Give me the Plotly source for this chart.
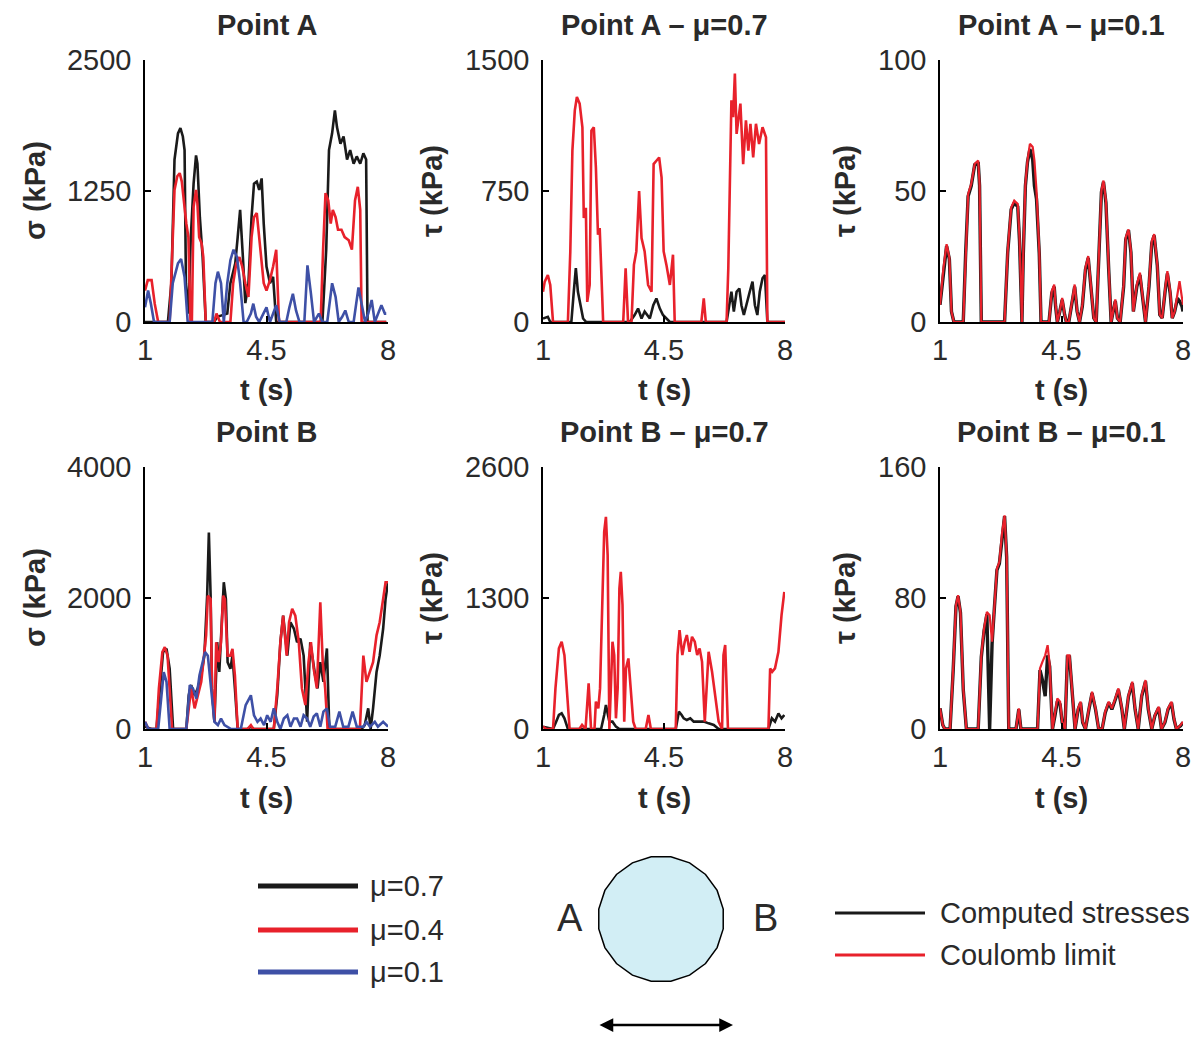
import math
import plotly.graph_objects as go

# ---------------- data ----------------
# Point A, normal stress sigma (kPa)
A_sig_t07 = [1.00,1.66,1.76,1.85,1.95,2.02,2.09,2.14,2.18,2.25,
             2.32,2.40,2.47,2.51,2.58,2.66,2.75,2.99,3.08,3.37,
             3.46,3.60,3.67,3.74,3.82,3.89,3.98,4.07,4.14,4.22,
             4.29,4.36,4.42,4.50,4.60,4.69,4.78,6.11,6.22,6.30,
             6.39,6.47,6.53,6.63,6.72,6.82,6.91,7.01,7.10,7.20,
             7.29,7.37,7.41,7.95]
A_sig_v07 = [0,0,370,1550,1800,1850,1770,1640,370,80,
             810,1320,1590,1510,1000,620,0,0,50,80,
             370,560,810,1070,620,180,370,1000,1320,1340,
             1260,1370,940,530,370,430,0,0,690,1640,
             1800,2020,1860,1700,1770,1550,1640,1510,1580,1510,
             1610,1550,0,0]
A_sig_t04 = [1.00,1.08,1.19,1.28,1.38,1.71,1.78,1.85,1.93,2.00,
             2.06,2.14,2.19,2.25,2.31,2.35,2.40,2.47,2.51,2.56,
             2.63,2.68,2.75,2.99,3.06,3.16,3.46,3.54,3.63,3.72,
             3.80,3.89,3.98,4.07,4.14,4.22,4.29,4.36,4.42,4.50,
             4.60,4.69,4.78,4.86,6.06,6.13,6.20,6.28,6.35,6.41,
             6.49,6.56,6.66,6.75,6.87,6.96,7.05,7.13,7.20,7.24,
             7.95]
A_sig_v04 = [300,400,400,175,0,0,620,1260,1390,1420,
             1340,1070,940,810,0,0,1100,1260,1130,810,
             750,620,0,0,80,0,0,370,560,620,
             530,370,240,810,1000,1040,810,620,370,300,
             400,530,690,0,0,690,1230,1160,940,1070,
             1000,880,880,810,780,690,1160,1290,1070,0,
             0]
A_sig_t01 = [1.00,1.09,1.17,1.26,1.71,1.80,1.95,2.04,2.14,2.23,
             2.94,3.03,3.10,3.19,3.27,3.37,3.46,3.55,3.65,3.74,
             3.84,3.93,4.05,4.12,4.20,4.29,4.41,4.50,4.60,4.69,
             4.78,4.88,5.07,5.16,5.26,5.35,5.45,5.59,5.68,5.78,
             5.87,6.01,6.11,6.25,6.39,6.49,6.58,6.68,6.77,6.87,
             7.01,7.15,7.24,7.34,7.43,7.53,7.62,7.72,7.81,7.91,
             7.95]
A_sig_v01 = [140,300,175,0,0,370,560,600,430,0,
             0,370,480,370,0,370,590,690,620,370,
             0,0,80,175,50,0,80,140,0,80,
             160,0,0,140,270,110,0,0,540,270,
             0,80,0,0,370,240,0,50,110,0,
             0,330,175,0,80,210,0,80,160,80,
             80]

# Point A, shear tau (kPa), mu = 0.7
A_tau07_t_lim = [1.00,1.05,1.14,1.21,1.29,1.72,1.79,1.85,1.92,1.98,
                 2.06,2.14,2.18,2.24,2.28,2.35,2.40,2.47,2.53,2.59,
                 2.64,2.69,2.74,3.32,3.39,3.46,3.56,3.63,3.70,3.78,
                 3.85,3.94,4.04,4.14,4.20,4.28,4.36,4.43,4.49,4.57,
                 4.67,4.76,4.81,5.58,5.65,5.71,6.31,6.36,6.41,6.45,
                 6.50,6.55,6.60,6.65,6.71,6.79,6.87,6.94,7.00,7.08,
                 7.16,7.25,7.35,7.45,7.49,8.00]
A_tau07_v_lim = [173,231,269,212,0,0,404,981,1212,1288,
                 1250,1115,596,654,115,212,1096,1115,885,500,
                 538,250,0,0,308,0,0,327,404,750,
                 481,404,212,173,904,923,942,827,404,327,
                 212,385,0,0,135,0,0,308,846,1269,
                 1173,1423,1077,1173,1250,904,1154,981,1135,942,
                 1135,1019,1115,1058,0,0]
A_tau07_t_cmp = [1.00,1.14,1.21,1.82,1.89,1.95,2.01,2.08,2.16,2.25,
                 3.51,3.65,3.75,3.85,3.94,4.09,4.19,4.28,4.38,4.47,
                 4.57,4.67,6.31,6.39,6.45,6.52,6.60,6.68,6.74,6.81,
                 6.89,6.98,7.06,7.13,7.20,7.27,7.35,7.42,7.49,8.00]
A_tau07_v_cmp = [20,30,0,0,173,308,173,96,20,0,
                 0,40,77,20,60,20,96,135,77,40,
                 20,0,0,96,173,60,173,192,96,40,
                 96,173,231,96,40,173,250,269,0,0]

# Point A, shear tau (kPa), mu = 0.1
A_tau01_t = [1.00,1.10,1.19,1.27,1.33,1.40,1.67,1.74,1.81,1.90,
             2.00,2.10,2.14,2.19,2.86,2.95,3.05,3.14,3.24,3.29,
             3.36,3.40,3.46,3.52,3.59,3.67,3.72,3.78,3.86,3.91,
             4.14,4.22,4.29,4.33,4.38,4.45,4.52,4.59,4.64,4.71,
             4.81,4.88,4.95,5.02,5.10,5.19,5.27,5.35,5.43,5.50,
             5.57,5.65,5.71,5.78,5.86,5.93,5.97,6.05,6.11,6.19,
             6.29,6.35,6.43,6.50,6.57,6.67,6.76,6.86,6.92,7.02,
             7.10,7.17,7.26,7.33,7.40,7.50,7.55,7.63,7.69,7.76,
             7.84,7.90,7.97,8.00]
A_tau01_v_lim = [6.6,20.7,29.7,24.6,4,0,0,27.1,48.8,52.7,
                 60.4,61.6,52.7,0,0,27.1,43.7,46.3,45,32.2,
                 0,27.1,52.7,61.6,68,66.8,61.6,50.1,27.1,0,
                 0,11.8,14.3,6.6,0,4,9.2,2.8,0,0,
                 9.2,14.3,4,0,6.6,20.7,25.2,14.3,1.5,0,
                 27.1,50.1,54,46.3,20.7,0,2.8,8.6,1.5,0,
                 14.3,32.2,35.4,27.1,4,14.3,18.8,6.6,0,14.3,
                 30.9,33.5,22,2.8,1.5,14.3,19.4,11.8,1.5,4,
                 11.8,15.6,9.2,6.6]
A_tau01_v_cmp = [6.6,20.0,29.0,24.0,4,0,0,26.5,48,52,
                 60,61,52,0,0,26.5,43,45.5,44,31,
                 0,26,52,61,66,62,52,47,26,0,
                 0,11,13.5,6,0,4,8.5,2.8,0,0,
                 8.5,13.5,4,0,6,20,24.5,13.5,1.5,0,
                 26.5,49.5,53.5,45.5,20,0,2.8,8,1.5,0,
                 13.5,31.5,35,26.5,4,13.5,18,6,0,13.5,
                 30,33,21.5,2.8,1.5,13.5,18.5,11,1.5,4,
                 9,8,6,4]

# Point B, normal stress sigma (kPa)
B_sig_t07 = [1.00,1.19,1.33,1.43,1.52,1.62,1.71,1.81,2.19,2.26,
             2.33,2.43,2.52,2.62,2.71,2.79,2.84,2.89,2.93,3.00,
             3.08,3.14,3.21,3.27,3.33,3.38,3.46,3.52,3.59,3.67,
             3.95,4.05,4.14,4.71,4.81,4.90,4.98,5.05,5.10,5.19,
             5.29,5.38,5.48,5.57,5.67,5.76,5.84,5.90,5.97,6.05,
             6.14,6.24,6.31,7.24,7.33,7.43,7.50,7.57,7.67,7.76,
             7.86,7.93,8.00]
B_sig_v07 = [35,0,0,620,1175,1225,920,0,0,515,
             670,515,620,820,1120,2035,3000,2035,620,110,
             1325,870,1730,2240,1985,1020,920,1120,620,0,
             0,35,0,0,515,1325,1730,1325,1120,1630,
             1530,1325,1380,1120,110,1325,1020,820,620,1020,
             720,1230,0,0,60,315,0,315,870,1120,
             1530,1985,2240]
B_sig_t04 = [1.00,1.10,1.33,1.40,1.50,1.57,1.65,1.71,1.78,2.19,
             2.26,2.33,2.43,2.52,2.62,2.70,2.76,2.81,2.89,2.93,
             3.00,3.05,3.12,3.19,3.25,3.30,3.38,3.46,3.52,3.59,
             3.67,3.95,4.05,4.12,4.71,4.81,4.90,4.98,5.08,5.15,
             5.24,5.33,5.43,5.52,5.62,5.71,5.78,5.86,5.95,6.05,
             6.12,6.19,6.26,7.19,7.29,7.38,7.48,7.57,7.67,7.76,
             7.86,7.93,8.00]
B_sig_v04 = [110,0,0,620,1175,1250,1120,620,0,0,
             315,620,315,515,720,1120,1430,2035,1985,620,
             110,1325,1020,1325,2035,1985,1120,1120,1225,820,
             0,0,60,0,0,620,1325,1730,1120,1630,
             1835,1730,1325,620,365,1020,1325,920,620,1935,
             1020,620,0,0,1120,720,870,1020,1430,1630,
             1985,2240,2240]
B_sig_t01 = [1.00,1.10,1.38,1.48,1.54,1.62,1.71,2.19,2.29,2.38,
             2.48,2.57,2.67,2.73,2.81,2.90,3.00,3.10,3.19,3.29,
             3.48,3.76,3.90,4.05,4.14,4.24,4.33,4.43,4.52,4.62,
             4.71,4.81,4.90,5.00,5.10,5.19,5.29,5.38,5.48,5.57,
             5.67,5.76,5.86,5.95,6.05,6.14,6.24,6.33,6.48,6.60,
             6.71,6.86,6.98,7.10,7.29,7.38,7.48,7.62,7.71,7.86,
             8.00]
B_sig_v01 = [110,0,0,620,870,720,0,0,670,620,
             465,820,1020,1175,1120,620,110,60,160,60,
             0,0,365,515,210,110,160,60,210,110,
             315,110,0,160,210,35,160,160,35,210,
             160,35,190,240,35,265,315,35,35,265,
             35,35,265,35,35,110,35,110,35,110,
             35]

# Point B, shear tau (kPa), mu = 0.7
B_tau07_t_lim = [1.00,1.10,1.29,1.36,1.46,1.54,1.62,1.69,1.77,2.05,
                 2.13,2.23,2.32,2.39,2.49,2.53,2.60,2.65,2.71,2.77,
                 2.82,2.87,2.92,2.97,3.01,3.06,3.11,3.16,3.21,3.25,
                 3.30,3.35,3.40,3.47,3.54,3.61,3.68,3.97,4.05,4.12,
                 4.84,4.89,4.95,5.03,5.10,5.16,5.24,5.31,5.39,5.46,
                 5.53,5.60,5.68,5.75,5.79,5.89,5.96,6.08,6.18,6.22,
                 6.27,6.32,6.35,7.52,7.57,7.63,7.71,7.81,7.90,7.98]
B_tau07_v_lim = [23,0,0,403,800,866,733,337,0,0,
                 40,0,453,0,0,271,205,403,1064,1956,
                 2105,1725,0,403,866,733,106,403,1394,1560,
                 1229,73,601,700,403,73,0,0,139,0,
                 0,733,981,733,866,932,766,915,866,733,
                 800,667,73,601,766,568,403,73,0,733,
                 833,403,0,0,601,568,601,766,1130,1361]
B_tau07_t_cmp = [1.00,1.29,1.38,1.46,1.54,1.62,1.72,2.68,2.77,2.82,
                 2.92,3.01,3.11,3.21,4.84,4.93,5.01,5.07,5.16,5.26,
                 5.36,5.51,5.65,5.79,5.94,6.08,7.52,7.62,7.71,7.81,
                 7.90,7.98]
B_tau07_v_cmp = [23,0,73,139,155,106,0,0,139,238,
                 73,73,23,0,0,172,139,106,89,106,
                 73,73,73,56,40,0,0,106,73,155,
                 106,139]

# Point B, shear tau (kPa), mu = 0.1
B_tau01_t = [1.00,1.08,1.14,1.29,1.38,1.46,1.52,1.59,1.67,1.76,
             2.10,2.19,2.27,2.35,2.43,2.50,2.57,2.64,2.71,2.79,
             2.86,2.92,2.98,3.19,3.27,3.33,3.81,3.88,3.95,4.03,
             4.10,4.16,4.24,4.31,4.38,4.46,4.52,4.60,4.67,4.73,
             4.81,4.89,4.98,5.05,5.11,5.19,5.29,5.38,5.48,5.57,
             5.67,5.76,5.86,5.95,6.05,6.14,6.24,6.31,6.43,6.54,
             6.62,6.71,6.81,6.92,7.00,7.10,7.19,7.30,7.38,7.48,
             7.57,7.67,7.74,7.81,7.93,8.00]
B_tau01_v_lim = [12.6,2.4,0,0,37,75.6,81.7,71.5,24.8,0,
                 0,45,61.4,71.5,69.5,53.3,75.6,98,102,120,
                 130.5,106,0,0,12.6,0,0,37,41,45,
                 51.2,39,0,8.5,18.7,16.7,4.5,0,45,45,
                 24.8,0,12.6,16.7,4.5,0,12.6,22.8,12.6,0,
                 0,10.6,16.7,12.6,18.7,24.8,12.6,0,20.7,28.9,
                 12.6,0,20.7,29.9,12.6,0,8.5,13.6,0,4.5,
                 12.6,16.7,6.5,0,2.4,4.5]
B_tau01_v_cmp = [12.6,2.4,0,0,36,75,81,71,24,0,
                 0,44,60,70,0,52,75,97,101,119,
                 130,105,0,0,12,0,0,36,30,20,
                 45,38,0,8,17,15,4,0,44,44,
                 24,0,12,16,4,0,12,22,12,0,
                 0,10,16,12,18,24,12,0,20,28,
                 12,0,20,29,12,0,8,13,0,4,
                 12,16,6,0,2,4]

x_ticks = [1, 4.5, 8]
x_tick_text = ["1", "4.5", "8"]
y_ticks = [[0, 1250, 2500], [0, 750, 1500], [0, 50, 100],
           [0, 2000, 4000], [0, 1300, 2600], [0, 80, 160]]
titles = ["Point A", "Point A \u2013 \u03bc=0.7", "Point A \u2013 \u03bc=0.1",
          "Point B", "Point B \u2013 \u03bc=0.7", "Point B \u2013 \u03bc=0.1"]
ylabels = ["\u03c3 (kPa)", "\u03c4 (kPa)", "\u03c4 (kPa)",
           "\u03c3 (kPa)", "\u03c4 (kPa)", "\u03c4 (kPa)"]
xlabel = "t (s)"
mu_labels = ["\u03bc=0.7", "\u03bc=0.4", "\u03bc=0.1"]
stress_labels = ["Computed stresses", "Coulomb limit"]

# ---------------- styling / layout ----------------
W, H = 1196, 1045
BLACK = "#1a1a1a"
RED = "#e8212b"
BLUE = "#3e50a6"
FONT = "Liberation Sans, Arial, sans-serif"
TXT = "#2a2a2a"

def px(x):
    return x / W

def py(y):
    return 1 - y / H

cols_px = [(145, 388), (543, 785), (940, 1183)]
rows_px = [(60, 322), (467, 729)]

fig = go.Figure()

# panel -> list of (t, v, colour, width)
panels = [
    [(A_sig_t07, A_sig_v07, BLACK, 2.6), (A_sig_t04, A_sig_v04, RED, 2.6), (A_sig_t01, A_sig_v01, BLUE, 2.6)],
    [(A_tau07_t_cmp, A_tau07_v_cmp, BLACK, 2.6), (A_tau07_t_lim, A_tau07_v_lim, RED, 2.6)],
    [(A_tau01_t, A_tau01_v_cmp, BLACK, 3.4), (A_tau01_t, A_tau01_v_lim, RED, 2.2)],
    [(B_sig_t07, B_sig_v07, BLACK, 2.6), (B_sig_t04, B_sig_v04, RED, 2.6), (B_sig_t01, B_sig_v01, BLUE, 2.6)],
    [(B_tau07_t_cmp, B_tau07_v_cmp, BLACK, 2.6), (B_tau07_t_lim, B_tau07_v_lim, RED, 2.6)],
    [(B_tau01_t, B_tau01_v_cmp, BLACK, 3.4), (B_tau01_t, B_tau01_v_lim, RED, 2.2)],
]

annotations = []
layout_axes = {}
for k in range(6):
    r, c = divmod(k, 3)
    x0, x1 = cols_px[c]
    y0, y1 = rows_px[r]
    xa = "x" if k == 0 else f"x{k+1}"
    ya = "y" if k == 0 else f"y{k+1}"
    for t, v, col, w in panels[k]:
        fig.add_trace(go.Scatter(x=t, y=v, mode="lines", xaxis=xa, yaxis=ya,
                                 line=dict(color=col, width=w), showlegend=False,
                                 hoverinfo="skip"))
    common = dict(showline=True, linecolor="black", linewidth=1.5, ticks="inside",
                  ticklen=6, tickwidth=1.5, tickcolor="black", showgrid=False,
                  zeroline=False, tickfont=dict(family=FONT, size=29, color=TXT),
                  fixedrange=True, automargin=False)
    layout_axes[f"xaxis{k+1}"] = dict(domain=[px(x0), px(x1)], anchor=ya, range=[1, 8],
                                      tickmode="array", tickvals=x_ticks, ticktext=x_tick_text,
                                      ticklabelstandoff=1, **common)
    yt = y_ticks[k]
    layout_axes[f"yaxis{k+1}"] = dict(domain=[py(y1), py(y0)], anchor=xa, range=[0, yt[-1]],
                                      tickmode="array", tickvals=yt,
                                      ticktext=[str(v) for v in yt],
                                      ticklabelstandoff=6, **common)
    cx = (x0 + x1) / 2
    title_y = 25 if r == 0 else 432
    annotations.append(dict(text=f"<b>{titles[k]}</b>", x=px(cx), y=py(title_y), xref="paper", yref="paper",
                            xanchor="center", yanchor="middle", showarrow=False,
                            font=dict(family=FONT, size=29, color=TXT)))
    xl_y = 390 if r == 0 else 798
    annotations.append(dict(text=f"<b>{xlabel}</b>", x=px(cx), y=py(xl_y), xref="paper", yref="paper",
                            xanchor="center", yanchor="middle", showarrow=False,
                            font=dict(family=FONT, size=29, color=TXT)))
    yl_x = [35, 432, 845][c]
    annotations.append(dict(text=f"<b>{ylabels[k]}</b>", x=px(yl_x), y=py((y0 + y1) / 2), xref="paper",
                            yref="paper", xanchor="center", yanchor="middle", showarrow=False,
                            textangle=-90, font=dict(family=FONT, size=29, color=TXT)))

shapes = []
# mu legend (left)
for i, (lab, col) in enumerate(zip(mu_labels, [BLACK, RED, BLUE])):
    yy = [886, 930, 972][i]
    shapes.append(dict(type="line", xref="paper", yref="paper", x0=px(258), x1=px(358),
                       y0=py(yy), y1=py(yy), line=dict(color=col, width=5)))
    annotations.append(dict(text=lab, x=px(368), y=py(yy), xref="paper", yref="paper",
                            xanchor="left", yanchor="middle", showarrow=False,
                            font=dict(family=FONT, size=29, color=TXT)))

# stresses legend (right)
for i, (lab, col) in enumerate(zip(stress_labels, [BLACK, RED])):
    yy = [913, 955][i]
    shapes.append(dict(type="line", xref="paper", yref="paper", x0=px(835), x1=px(925),
                       y0=py(yy), y1=py(yy), line=dict(color=col, width=3)))
    annotations.append(dict(text=lab, x=px(938), y=py(yy), xref="paper", yref="paper",
                            xanchor="left", yanchor="middle", showarrow=False,
                            font=dict(family=FONT, size=29, color=TXT)))

# pile cross-section sketch
ccx, ccy, rr = 661, 919, 63
nside = 20
pts = []
for i in range(nside):
    a = 2 * math.pi * i / nside + math.pi / nside
    pts.append((px(ccx + rr * math.cos(a)), py(ccy + rr * math.sin(a))))
path = "M " + " L ".join(f"{x:.5f},{y:.5f}" for x, y in pts) + " Z"
shapes.append(dict(type="path", xref="paper", yref="paper", path=path,
                   fillcolor="#d2eef5", line=dict(color="black", width=1.5)))
annotations.append(dict(text="A", x=px(570), y=py(918), xref="paper", yref="paper",
                        xanchor="center", yanchor="middle", showarrow=False,
                        font=dict(family=FONT, size=38, color=TXT)))
annotations.append(dict(text="B", x=px(765), y=py(918), xref="paper", yref="paper",
                        xanchor="center", yanchor="middle", showarrow=False,
                        font=dict(family=FONT, size=38, color=TXT)))
annotations.append(dict(text="", x=px(733), y=py(1025), xref="paper", yref="paper",
                        ax=-135, ay=0, axref="pixel", ayref="pixel", showarrow=True,
                        arrowhead=2, arrowside="end+start", arrowsize=1.1, arrowwidth=2.5,
                        arrowcolor="black", standoff=0, startstandoff=0))

fig.update_layout(width=W, height=H, autosize=False,
                  margin=dict(l=0, r=0, t=0, b=0, pad=0, autoexpand=False),
                  paper_bgcolor="white", plot_bgcolor="white", showlegend=False,
                  annotations=annotations, shapes=shapes, **layout_axes)

fig.write_html("out.html", config={"displayModeBar": False})
